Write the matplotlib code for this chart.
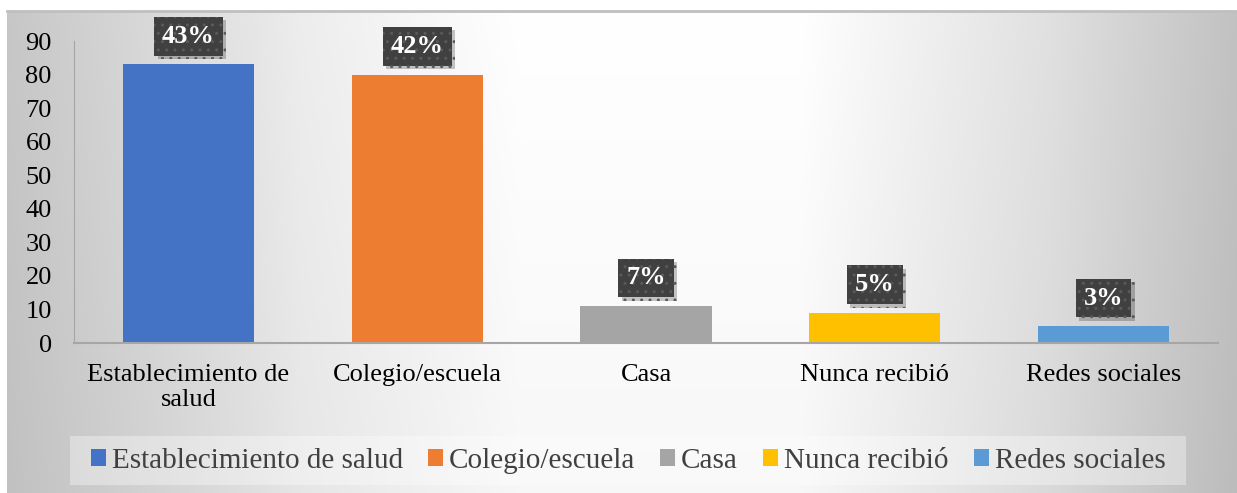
import matplotlib.pyplot as plt
import matplotlib.patheffects as pe
import numpy as np
from matplotlib.patches import Patch, Rectangle

categories = ["Establecimiento de salud", "Colegio/escuela", "Casa", "Nunca recibió", "Redes sociales"]
tick_labels = ["Establecimiento de\nsalud", "Colegio/escuela", "Casa", "Nunca recibió", "Redes sociales"]
values = [83, 80, 11, 9, 5]
pct_labels = ["43%", "42%", "7%", "5%", "3%"]
colors = ["#4472c4", "#ed7d31", "#a5a5a5", "#ffc000", "#5b9bd5"]

plt.rcParams['font.family'] = ['Liberation Serif', 'DejaVu Serif']

W, H = 1237, 493
fig = plt.figure(figsize=(W / 100, H / 100), dpi=100)

# background: mostly horizontal gradient, white in the middle
bg = fig.add_axes([7 / W, 0, 1 - 7 / W, (H - 11) / H], zorder=-2)
px = np.linspace(7, W, 800)
py = np.linspace(0, 1, 200)
shade_x = np.interp(px, [7, 250, 300, 520, 800, 1050, 1237],
                    [0.78, 0.90, 0.93, 1.0, 1.0, 0.88, 0.76])
shade_y = 1.0 - 0.03 * (1 - py)  # slightly darker towards the bottom
shade = np.clip(shade_y[:, None] * shade_x[None, :], 0, 1)
img = np.dstack([shade, shade, shade])
bg.imshow(img, aspect='auto', extent=[0, 1, 0, 1], origin='lower', interpolation='bilinear')
bg.set_xlim(0, 1)
bg.set_ylim(0, 1)
bg.set_xticks([])
bg.set_yticks([])
for s in ['left', 'right', 'bottom']:
    bg.spines[s].set_visible(False)
bg.spines['top'].set_color('#bfbfbf')
bg.spines['top'].set_linewidth(2)

ax = fig.add_axes([74 / W, (H - 343) / H, (1218 - 74) / W, (343 - 41) / H])
ax.patch.set_alpha(0)
x = np.arange(len(categories))
ax.bar(x, values, width=0.573, color=colors, zorder=2)
ax.set_xlim(-0.5, 4.5)
ax.set_ylim(0, 90)
ax.set_yticks(range(0, 91, 10))
ax.set_xticks(x)
ax.set_xticklabels(tick_labels, fontsize=19, linespacing=1.2)
ax.tick_params(axis='y', labelsize=19, length=0, pad=16)
ax.tick_params(axis='x', length=0, pad=15)
for s in ['top', 'right']:
    ax.spines[s].set_visible(False)
ax.spines['left'].set_color('#a6a6a6')
ax.spines['bottom'].set_color('#a6a6a6')
ax.spines['bottom'].set_linewidth(1.5)

for xi, v, lab in zip(x, values, pct_labels):
    t = ax.annotate(lab, (xi, v), xytext=(0, 12), textcoords='offset points',
                    ha='center', va='bottom', fontsize=19, fontweight='bold', color='white',
                    bbox=dict(boxstyle='square,pad=0.3', facecolor='#404040', edgecolor='#5a5a5a',
                              hatch='..', linewidth=0),
                    zorder=4)
    t.get_bbox_patch().set_path_effects([
        pe.SimplePatchShadow(offset=(2.5, -2.5), shadow_rgbFace='black', alpha=0.22),
        pe.Normal()])

# legend box
fig.patches.append(Rectangle((70 / W, (H - 485) / H), (1186 - 70) / W, 49 / H,
                             transform=fig.transFigure, facecolor='white', alpha=0.35,
                             linewidth=0, zorder=-1))
handles = [Patch(facecolor=c, edgecolor='none') for c in colors]
leg = fig.legend(handles, categories, loc='center', ncol=5,
                 bbox_to_anchor=(628 / W, (H - 460.5) / H),
                 fontsize=21, frameon=False,
                 handlelength=0.52, handleheight=0.52, handletextpad=0.2,
                 columnspacing=0.86, borderpad=0.2)
for t in leg.get_texts():
    t.set_color('#404040')

fig.savefig('out.png', dpi=100)
